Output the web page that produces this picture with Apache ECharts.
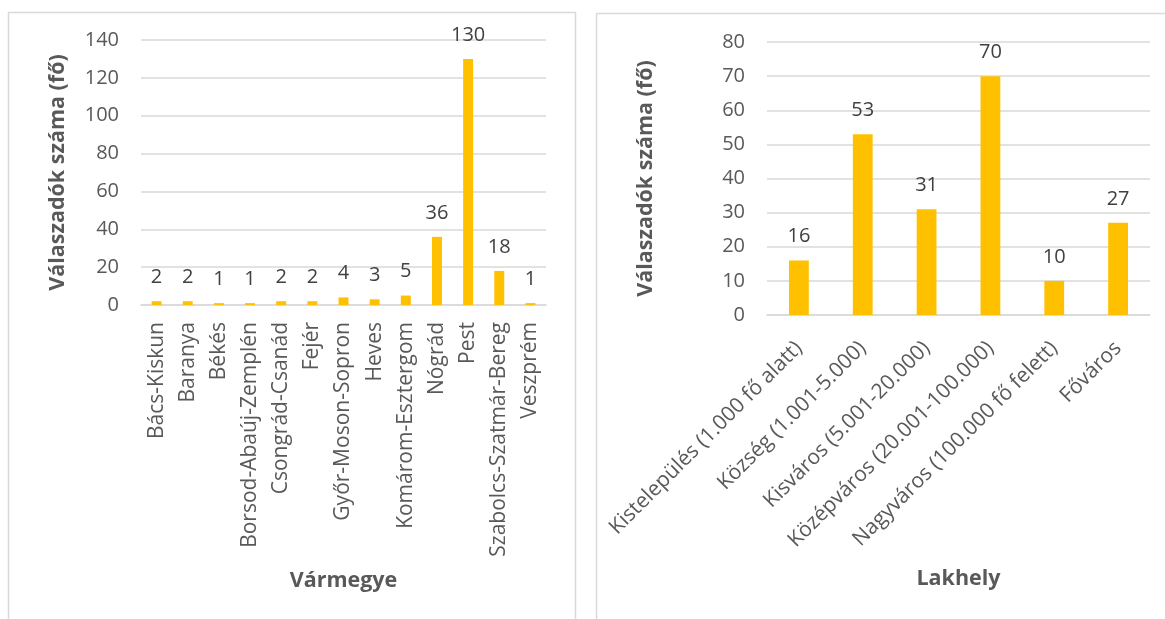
<!DOCTYPE html>
<html>
<head>
<meta charset="utf-8">
<script src="https://cdn.jsdelivr.net/npm/echarts@6/dist/echarts.min.js"></script>
<style>
html,body{margin:0;padding:0;background:#fff;}
#c{width:1165px;height:619px;}
</style>
</head>
<body>
<div id="c"></div>
<script>
const countyNames = ['Bács-Kiskun','Baranya','Békés','Borsod-Abaúj-Zemplén','Csongrád-Csanád','Fejér','Győr-Moson-Sopron','Heves','Komárom-Esztergom','Nógrád','Pest','Szabolcs-Szatmár-Bereg','Veszprém'];
const countyValues = [2,2,1,1,2,2,4,3,5,36,130,18,1];
const residenceNames = ['Kistelepülés (1.000 fő alatt)','Község (1.001-5.000)','Kisváros (5.001-20.000)','Középváros (20.001-100.000)','Nagyváros (100.000 fő felett)','Főváros'];
const residenceValues = [16,53,31,70,10,27];
const yTitle = 'Válaszadók száma (fő)';
const xTitleLeft = 'Vármegye';
const xTitleRight = 'Lakhely';

const FONT = '"Open Sans", "Noto Sans", sans-serif';
const BAR = '#FFC000';
const GRID = '#d9d9d9';
const TXT = '#595959';

const chart = echarts.init(document.getElementById('c'), null, {renderer:'canvas'});
const axisLabel = {color: TXT, fontFamily: FONT, fontSize: 20};
const catLabel = {color: TXT, fontFamily: FONT, fontSize: 21};
const nameStyle = {color: TXT, fontFamily: FONT, fontSize: 21.5, fontWeight: 'bold'};
const dataLabel = {show: true, position: 'top', distance: 14, color: '#404040', fontFamily: FONT, fontSize: 20};

chart.setOption({
  animation: false,
  backgroundColor: '#fff',
  graphic: [
    {type:'rect', shape:{x:8.5,y:12.5,width:567,height:640}, style:{fill:'none', stroke:GRID, lineWidth:1.5}, z:-10},
    {type:'rect', shape:{x:596.5,y:13.5,width:600,height:640}, style:{fill:'none', stroke:GRID, lineWidth:1.5}, z:-10}
  ],
  grid: [
    {left:141, right:1165-546, top:40, bottom:619-305, containLabel:false},
    {left:767, right:1165-1150, top:42, bottom:619-315, containLabel:false}
  ],
  xAxis: [
    {type:'category', gridIndex:0, data: countyNames,
     axisLine:{lineStyle:{color:GRID, width:1.5}}, axisTick:{show:false},
     axisLabel:Object.assign({rotate:90, margin:17, interval:0}, catLabel),
     name:xTitleLeft, nameLocation:'middle', nameGap:265, nameTextStyle:nameStyle},
    {type:'category', gridIndex:1, data: residenceNames,
     axisLine:{lineStyle:{color:GRID, width:1.5}}, axisTick:{show:false},
     axisLabel:Object.assign({rotate:45, margin:30, interval:0}, catLabel),
     name:xTitleRight, nameLocation:'middle', nameGap:253, nameTextStyle:nameStyle}
  ],
  yAxis: [
    {type:'value', gridIndex:0, min:0, max:140, interval:20,
     axisLine:{show:false}, axisTick:{show:false},
     splitLine:{lineStyle:{color:GRID, width:1.5}},
     axisLabel:Object.assign({margin:22}, axisLabel),
     name:yTitle, nameLocation:'middle', nameGap:72, nameRotate:90, nameTextStyle:nameStyle},
    {type:'value', gridIndex:1, min:0, max:80, interval:10,
     axisLine:{show:false}, axisTick:{show:false},
     splitLine:{lineStyle:{color:GRID, width:1.5}},
     axisLabel:Object.assign({margin:22}, axisLabel),
     name:yTitle, nameLocation:'middle', nameGap:110, nameRotate:90, nameTextStyle:nameStyle}
  ],
  series: [
    {type:'bar', xAxisIndex:0, yAxisIndex:0, data:countyValues, barWidth:'32%',
     itemStyle:{color:BAR}, label:dataLabel},
    {type:'bar', xAxisIndex:1, yAxisIndex:1, data:residenceValues, barWidth:'31%',
     itemStyle:{color:BAR}, label:dataLabel}
  ]
});
</script>
</body>
</html>
